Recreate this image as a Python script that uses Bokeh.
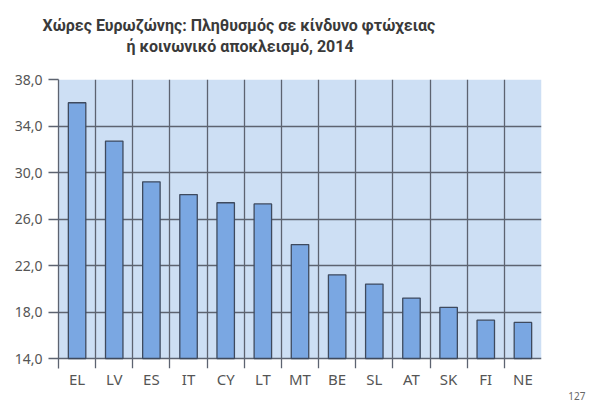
from bokeh.plotting import figure
from bokeh.models import ColumnDataSource, FixedTicker, Range1d, Title, Grid
from bokeh.embed import file_html
from bokeh.resources import INLINE

countries = ["EL", "LV", "ES", "IT", "CY", "LT", "MT", "BE", "SL", "AT", "SK", "FI", "NE"]
values = [36.0, 32.7, 29.2, 28.1, 27.4, 27.3, 23.8, 21.2, 20.4, 19.2, 18.4, 17.3, 17.1]
y_ticks = [14.0, 18.0, 22.0, 26.0, 30.0, 34.0, 38.0]
title_lines = ["Χώρες Ευρωζώνης: Πληθυσμός σε κίνδυνο φτώχειας",
               "ή κοινωνικό αποκλεισμό, 2014"]
page_number = "127"

n = len(countries)
centers = [i + 0.5 for i in range(n)]
bounds = list(range(n + 1))

# layout in pixels
W, H = 589, 401
LEFT, TOP, PLOT_BOTTOM, RIGHT = 58, 79, 358, 541
TICK = 10
px_per_unit = (PLOT_BOTTOM - TOP) / (y_ticks[-1] - y_ticks[0])
y_start = y_ticks[0] - TICK / px_per_unit   # room for the x tick marks

src = ColumnDataSource(dict(x=centers, top=values))

GRID = "#5d6370"
p = figure(width=W, height=H, output_backend="svg", toolbar_location=None,
           x_range=Range1d(0, n), y_range=Range1d(y_start, y_ticks[-1]),
           min_border_left=LEFT, min_border_right=W - RIGHT, min_border_top=TOP,
           min_border_bottom=H - PLOT_BOTTOM - TICK)
p.background_fill_color = "white"
p.border_fill_color = "white"
p.outline_line_color = None

# plot-area background (drawn beneath the grid)
p.quad(left=[0], right=[n], bottom=[y_ticks[0]], top=[y_ticks[-1]],
       fill_color="#cddff4", line_color=None, level="image")

p.vbar(x="x", top="top", bottom=y_ticks[0], width=0.47, source=src,
       fill_color="#7aa7e2", line_color="#3e4a5e", line_width=1.3)

# x axis: category names only
xa = p.xaxis[0]
xa.ticker = FixedTicker(ticks=centers)
xa.major_label_overrides = {c: nm for c, nm in zip(centers, countries)}
xa.major_tick_line_color = None
xa.major_tick_out = 0
xa.major_tick_in = 0
xa.minor_tick_line_color = None
xa.axis_line_color = None
xa.major_label_standoff = 0
xa.major_label_text_font = "Noto Sans"
xa.major_label_text_font_size = "15px"
xa.major_label_text_color = "#555555"

# page number
p.add_layout(Title(text=page_number, align="right", offset=-44, standoff=0,
                   vertical_align="top",
                   text_font="Noto Sans", text_font_size="10px", text_font_style="normal",
                   text_color="#666666"), "below")

# y axis (its line runs down to the bottom of the tick marks)
ya = p.yaxis[0]
ya.bounds = (y_start, y_ticks[-1])
ya.ticker = FixedTicker(ticks=y_ticks)
ya.major_label_overrides = {t: f"{t:.1f}".replace(".", ",") for t in y_ticks}
ya.major_tick_out = TICK
ya.major_tick_in = 0
ya.major_tick_line_color = GRID
ya.major_tick_line_width = 1.3
ya.minor_tick_line_color = None
ya.axis_line_color = GRID
ya.axis_line_width = 1.3
ya.major_label_text_font = "Noto Sans"
ya.major_label_text_font_size = "14px"
ya.major_label_text_color = "#555555"
ya.major_label_standoff = 6

# vertical lines at category boundaries run below the plot area as tick marks
p.xgrid.ticker = FixedTicker(ticks=bounds)
p.xgrid.bounds = (0, n)
if "cross_bounds" in Grid.properties():
    p.xgrid.cross_bounds = (y_start, y_ticks[-1])
    p.ygrid.cross_bounds = (0, n)
p.xgrid.grid_line_color = GRID
p.xgrid.grid_line_width = 1.3
p.ygrid.ticker = FixedTicker(ticks=y_ticks)
p.ygrid.grid_line_color = GRID
p.ygrid.grid_line_width = 1.3

# two-line title (spacer first = closest to the plot)
p.add_layout(Title(text=" ", text_font_size="1px", standoff=21), "above")
for line, off in zip(reversed(title_lines), [68, -16]):
    p.add_layout(Title(text=line, align="left", offset=off, standoff=0,
                       text_font="Roboto", text_font_size="16px", text_font_style="bold",
                       text_color="#3a3a3a"), "above")

open("out.html", "w").write(file_html(p, INLINE))
